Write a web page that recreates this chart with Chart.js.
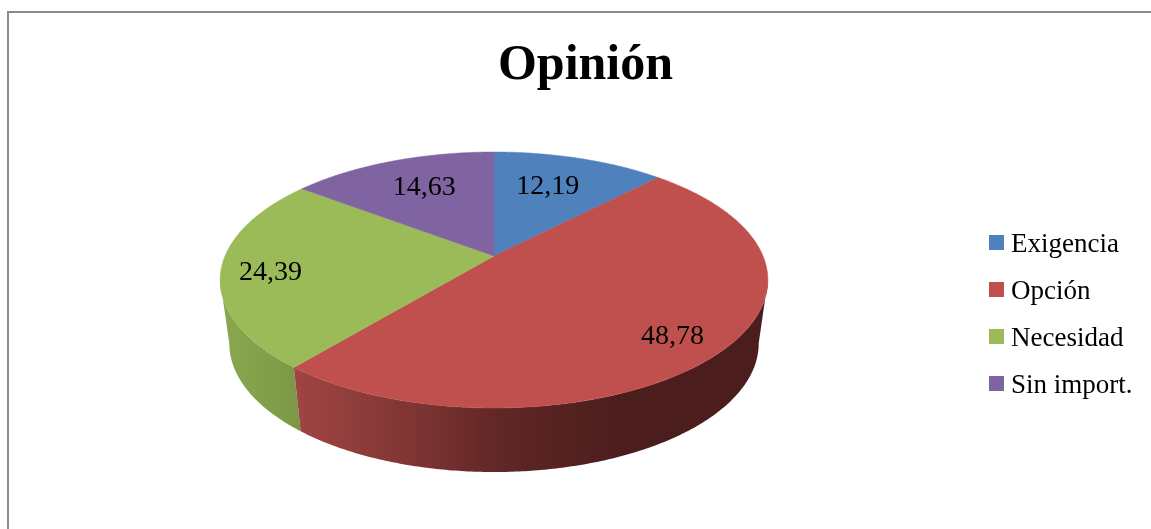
<!DOCTYPE html>
<html lang="es">
<head>
<meta charset="utf-8">
<title>Opinión</title>
<script src="https://cdn.jsdelivr.net/npm/chart.js@4"></script>
<style>
html,body{margin:0;padding:0;background:#fff;overflow:hidden}
#wrap{position:relative;width:1151px;height:529px}
#frame{position:absolute;left:7px;top:11px;right:-4px;bottom:-4px;border:2px solid #8b8b8b;pointer-events:none}
canvas{position:absolute;left:0;top:0}
</style>
</head>
<body>
<div id="wrap"><div id="frame"></div><canvas id="c" width="1151" height="529"></canvas></div>
<script>
const titleText = "Opinión";
const categories = ["Exigencia", "Opción", "Necesidad", "Sin import."];
const values = [12.19, 48.78, 24.39, 14.63];
const colors = ["#4f81bd", "#c0504d", "#9bbb59", "#8064a2"];

const serif = '"Liberation Serif", serif';
const top3d = {cx:494, cy:256, a:269, b:123.5, k:0.1875};
const low3d = {cx:494, cy:319.4, a:260, b:124, k:0.1875};
const labelPlace = [
  {r:0.70, dx:-9, dy:2},
  {r:0.80, dx:0, dy:8},
  {r:0.80, dx:-6, dy:5},
  {r:0.70, dx:5, dy:1}
];
const sideStops = {
  1: {x0:293, x1:620, stops:[[0,"#a04543"],[0.3,"#853836"],[0.65,"#5f2625"],[1,"#4b1e1d"]]},
  2: {x0:228, x1:299, stops:[[0,"#89a64f"],[1,"#7c9846"]]}
};
const legendBox = {x:989, textX:1011, y0:242.5, step:47, size:15, font:'27px ' + serif};

function project(p, r, theta){
  const u = r*Math.sin(theta), v = -r*Math.cos(theta);
  const d = 1 - p.k*v;
  return {x:p.cx + p.a*u/d, y:p.cy + p.b*v/d};
}
function rim(ctx, p, t0, t1, first){
  const n = Math.max(2, Math.ceil(Math.abs(t1-t0)/0.01));
  for(let i=0;i<=n;i++){
    const q = project(p, 1, t0+(t1-t0)*i/n);
    if(i===0 && first) ctx.moveTo(q.x,q.y); else ctx.lineTo(q.x,q.y);
  }
}

const pie3d = {
  id:"pie3d",
  beforeDatasetDraw(chart){
    const ctx = chart.ctx;
    const arcs = chart.getDatasetMeta(0).data;
    const span = arcs.map(a => ({t0:a.startAngle+Math.PI/2, t1:a.endAngle+Math.PI/2}));
    ctx.save();
    const lo = Math.PI - Math.acos(top3d.k), hi = Math.PI + Math.acos(top3d.k);
    [2,1].forEach(i => {
      const st = sideStops[i];
      const t0 = Math.max(span[i].t0, lo), t1 = Math.min(span[i].t1, hi);
      const g = ctx.createLinearGradient(st.x0,0,st.x1,0);
      st.stops.forEach(c => g.addColorStop(c[0],c[1]));
      ctx.beginPath();
      rim(ctx, top3d, t0, t1, true);
      rim(ctx, low3d, t1, t0, false);
      ctx.closePath();
      ctx.fillStyle = g;
      ctx.fill();
    });
    span.forEach((s,i) => {
      ctx.beginPath();
      ctx.moveTo(top3d.cx, top3d.cy);
      rim(ctx, top3d, s.t0, s.t1, false);
      ctx.closePath();
      ctx.fillStyle = colors[i]; ctx.strokeStyle = colors[i]; ctx.lineWidth = 0.5;
      ctx.fill(); ctx.stroke();
    });
    ctx.fillStyle = "#000";
    ctx.font = '28px ' + serif;
    ctx.textAlign = "center"; ctx.textBaseline = "middle";
    span.forEach((s,i) => {
      const l = labelPlace[i];
      const q = project(top3d, l.r, (s.t0+s.t1)/2);
      ctx.fillText(values[i].toFixed(2).replace(".",","), q.x+l.dx, q.y+l.dy);
    });
    ctx.restore();
    return false;
  },
  afterDraw(chart){
    const ctx = chart.ctx;
    ctx.save();
    ctx.font = legendBox.font;
    ctx.textAlign = "left"; ctx.textBaseline = "middle";
    categories.forEach((name,i) => {
      const y = legendBox.y0 + legendBox.step*i;
      ctx.fillStyle = colors[i];
      ctx.fillRect(legendBox.x, y-legendBox.size/2, legendBox.size, legendBox.size);
      ctx.fillStyle = "#000";
      ctx.fillText(name, legendBox.textX, y+2);
    });
    ctx.restore();
  }
};

new Chart(document.getElementById("c"), {
  type:"pie",
  data:{labels:categories, datasets:[{data:values, backgroundColor:colors, borderWidth:0}]},
  options:{
    responsive:false, animation:false,
    layout:{padding:{left:20}},
    plugins:{
      legend:{display:false},
      tooltip:{enabled:false},
      title:{display:true, text:titleText, color:"#000",
             font:{family:serif, size:50, weight:"bold"}, padding:{top:36,bottom:10}}
    }
  },
  plugins:[pie3d]
});
</script>
</body>
</html>
